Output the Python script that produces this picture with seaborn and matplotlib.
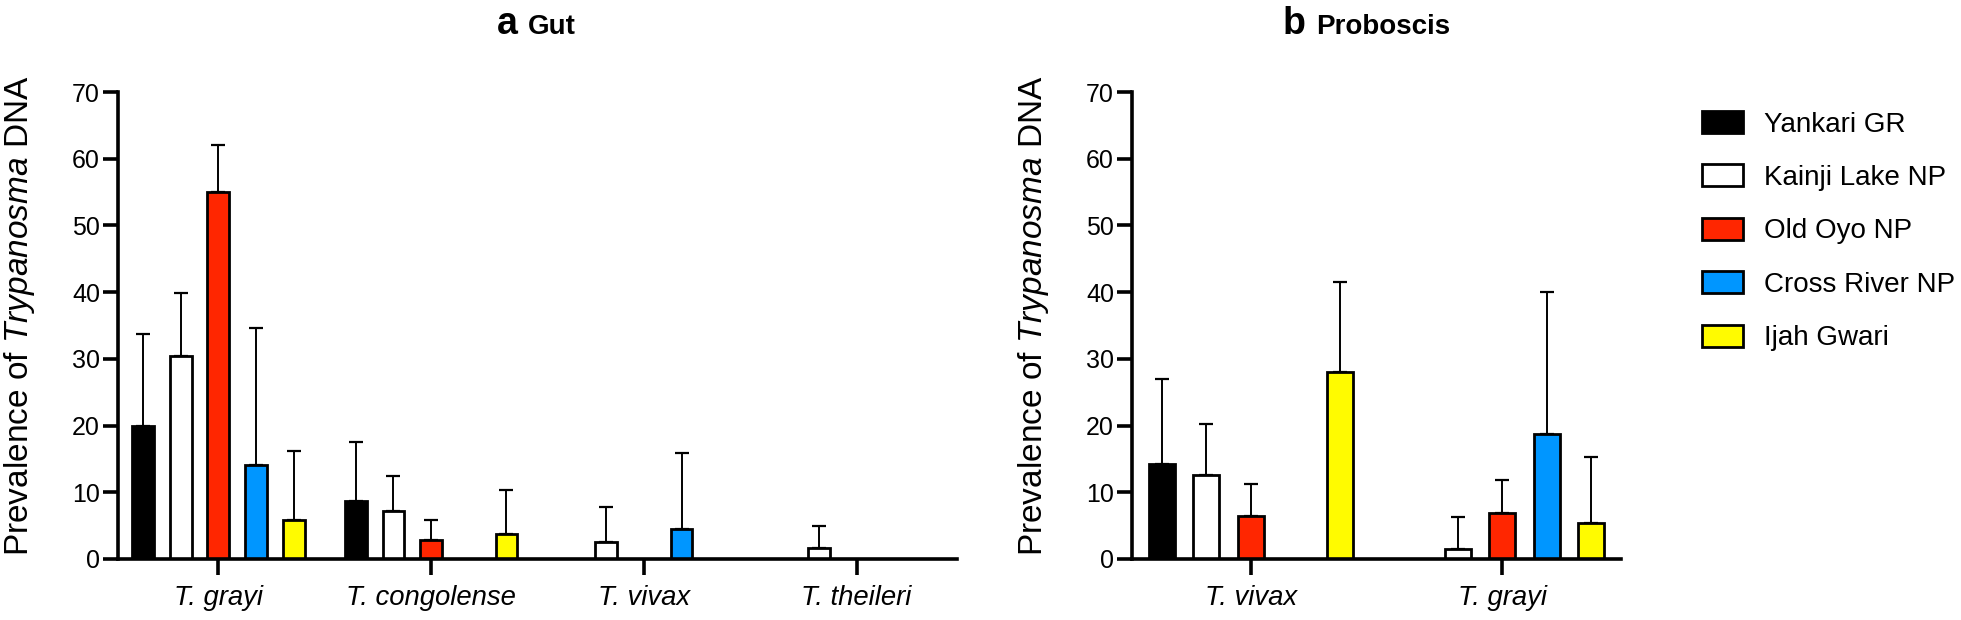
import numpy as np
import pandas as pd
import matplotlib
matplotlib.use("Agg")
import matplotlib.pyplot as plt
import seaborn as sns
from matplotlib.patches import Patch

# ---------------- data ----------------
sites = ["Yankari GR", "Kainji Lake NP", "Old Oyo NP", "Cross River NP", "Ijah Gwari"]
site_colors = ["#000000", "#FFFFFF", "#FF2600", "#0096FF", "#FFFB00"]

gut_species = ["T. grayi", "T. congolense", "T. vivax", "T. theileri"]
yankari_gut = [20.0, 8.7, 0.0, 0.0]
kainji_gut = [30.4, 7.2, 2.5, 1.6]
oldoyo_gut = [55.0, 2.9, 0.0, 0.0]
crossriver_gut = [14.1, 0.0, 4.5, 0.0]
ijah_gut = [5.8, 3.8, 0.0, 0.0]
# upper end of error bars (nan = no error bar)
yankari_gut_up = [33.8, 17.5, np.nan, np.nan]
kainji_gut_up = [39.8, 12.4, 7.8, 4.9]
oldoyo_gut_up = [62.1, 5.8, np.nan, np.nan]
crossriver_gut_up = [34.6, np.nan, 15.9, np.nan]
ijah_gut_up = [16.2, 10.3, np.nan, np.nan]

prob_species = ["T. vivax", "T. grayi"]
yankari_prob = [14.3, 0.0]
kainji_prob = [12.6, 1.55]
oldoyo_prob = [6.4, 6.9]
crossriver_prob = [0.0, 18.8]
ijah_prob = [28.0, 5.4]
yankari_prob_up = [27.0, np.nan]
kainji_prob_up = [20.3, 6.3]
oldoyo_prob_up = [11.2, 11.8]
crossriver_prob_up = [np.nan, 40.0]
ijah_prob_up = [41.5, 15.3]

yticks = [0, 10, 20, 30, 40, 50, 60, 70]

# ---------------- style ----------------
sns.set_style("ticks")
plt.rcParams["font.family"] = ["Liberation Sans", "DejaVu Sans"]
plt.rcParams["mathtext.fontset"] = "custom"
plt.rcParams["mathtext.rm"] = "Liberation Sans"
plt.rcParams["mathtext.it"] = "Liberation Sans:italic"
plt.rcParams["mathtext.bf"] = "Liberation Sans:bold"
plt.rcParams["text.color"] = "black"
plt.rcParams["axes.labelcolor"] = "black"
plt.rcParams["xtick.color"] = "black"
plt.rcParams["ytick.color"] = "black"

W, H = 1961, 620
fig = plt.figure(figsize=(W / 100, H / 100), dpi=100)


def px_axes(x0, x1, ytop, ybot):
    return fig.add_axes([x0 / W, 1 - ybot / H, (x1 - x0) / W, (ybot - ytop) / H])


ax_gut = px_axes(118, 957, 92, 559)
ax_prob = px_axes(1132, 1621, 92, 559)


def draw_panel(ax, species, values, uppers, label_x):
    rows = []
    for site, vals in zip(sites, values):
        for sp, v in zip(species, vals):
            rows.append({"species": sp, "site": site, "value": v})
    df = pd.DataFrame(rows)
    sns.barplot(data=df, x="species", y="value", hue="site",
                order=species, hue_order=sites, palette=site_colors,
                saturation=1, width=0.885, gap=0.42, errorbar=None,
                edgecolor="black", linewidth=2.0, legend=False, ax=ax, zorder=2)
    # error bars (upper only), positions taken from the drawn bars
    for cont, ups in zip(ax.containers, uppers):
        xs = np.array([p.get_x() + p.get_width() / 2 for p in cont.patches])
        hs = np.array([p.get_height() for p in cont.patches])
        ups = np.array(ups, dtype=float)
        mask = ~np.isnan(ups)
        if mask.any():
            ax.errorbar(xs[mask], hs[mask],
                        yerr=[np.zeros(mask.sum()), ups[mask] - hs[mask]],
                        fmt="none", ecolor="black", elinewidth=1.4,
                        capsize=4.7, capthick=1.6, zorder=1)
    n = len(species)
    ax.set_xlim(-0.472, n - 1 + 0.472)
    ax.set_ylim(0, 70)
    ax.set_yticks(yticks)
    ax.set_yticklabels([str(t) for t in yticks], fontsize=18, color="black")
    ax.set_xticks(range(n))
    ax.set_xticklabels(species, fontsize=19.8, fontstyle="italic", color="black")
    ax.set_xlabel("")
    ax.set_ylabel(r"Prevalence of $\it{Trypanosma}$ DNA", fontsize=24, color="black")
    ax.yaxis.set_label_coords(label_x, 0.52)
    for s in ["top", "right"]:
        ax.spines[s].set_visible(False)
    for s in ["left", "bottom"]:
        ax.spines[s].set_linewidth(2.6)
        ax.spines[s].set_color("black")
        ax.spines[s].set_zorder(5)
    ax.tick_params(axis="y", length=11, width=2.6, pad=2, colors="black")
    ax.tick_params(axis="x", length=11.5, width=2.6, pad=7, colors="black")
    ax.set_facecolor("white")


draw_panel(ax_gut, gut_species,
           [yankari_gut, kainji_gut, oldoyo_gut, crossriver_gut, ijah_gut],
           [yankari_gut_up, kainji_gut_up, oldoyo_gut_up, crossriver_gut_up, ijah_gut_up],
           -0.097)
draw_panel(ax_prob, prob_species,
           [yankari_prob, kainji_prob, oldoyo_prob, crossriver_prob, ijah_prob],
           [yankari_prob_up, kainji_prob_up, oldoyo_prob_up, crossriver_prob_up, ijah_prob_up],
           -0.166)

# titles
base_y = 1 - 34 / H
fig.text(497 / W, base_y, "a", fontsize=27, fontweight="bold", va="baseline", ha="left", color="black")
fig.text(528 / W, base_y, "Gut", fontsize=20, fontweight="bold", va="baseline", ha="left", color="black")
fig.text(1283 / W, base_y, "b", fontsize=27, fontweight="bold", va="baseline", ha="left", color="black")
fig.text(1316 / W, base_y, "Proboscis", fontsize=20, fontweight="bold", va="baseline", ha="left", color="black")

# legend
handles = [Patch(facecolor=c, edgecolor="black", linewidth=2.0, label=s)
           for s, c in zip(sites, site_colors)]
leg = fig.legend(handles=handles, loc="upper left", bbox_to_anchor=(1702 / W, 1 - 111 / H),
                 frameon=False, fontsize=20, handlelength=1.47, handleheight=0.83,
                 handletextpad=0.78, labelspacing=0.97, borderpad=0, borderaxespad=0)
for t in leg.get_texts():
    t.set_color("black")

fig.savefig("out.png", dpi=100, facecolor="white")
